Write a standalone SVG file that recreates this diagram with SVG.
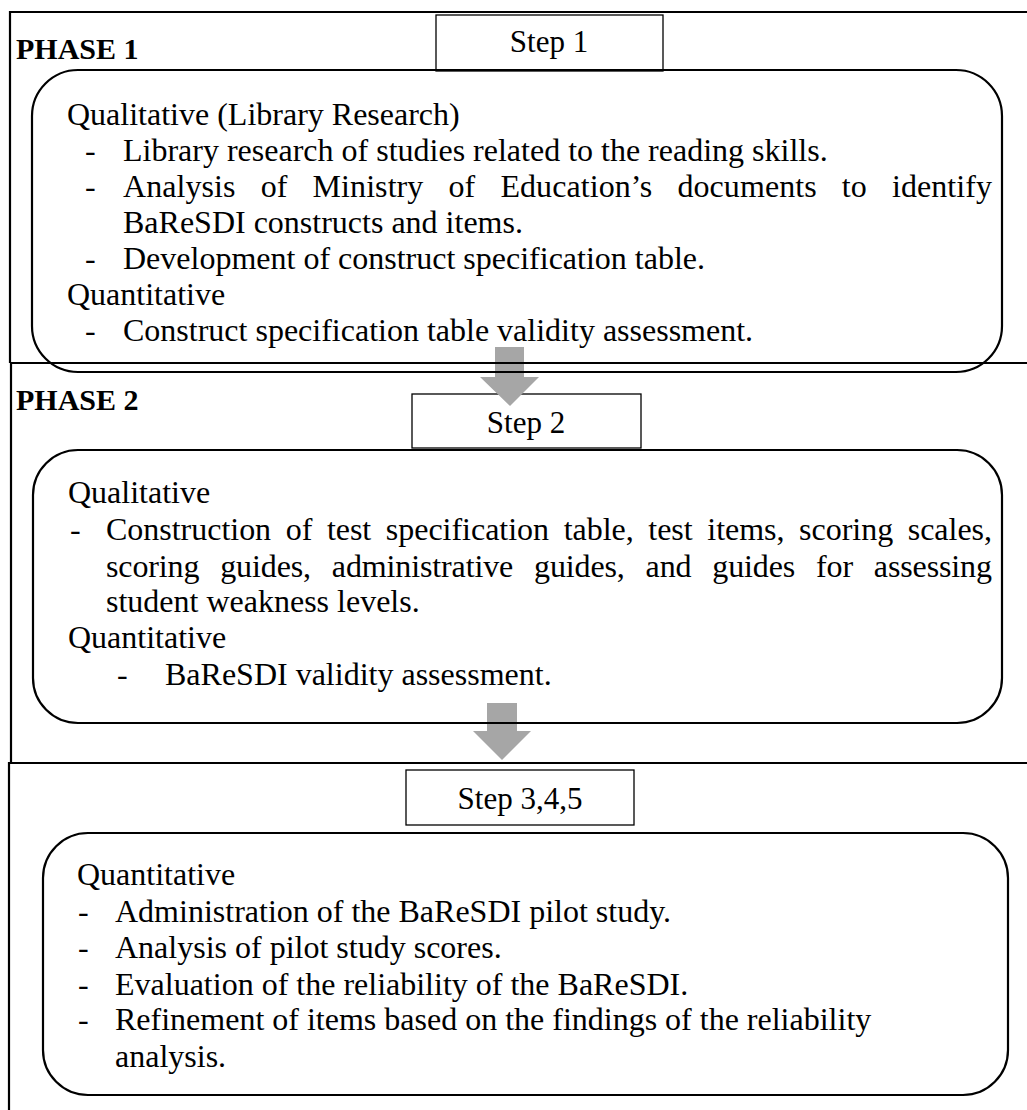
<svg xmlns="http://www.w3.org/2000/svg" width="1027" height="1110" viewBox="0 0 1027 1110">
<style>
.t { font-family: "Liberation Serif", "Times New Roman", serif; font-size: 32px; fill: #000; }
.s { font-family: "Liberation Serif", "Times New Roman", serif; font-size: 31px; fill: #000; text-anchor: middle; }
.ph { font-family: "Liberation Serif", "Times New Roman", serif; font-size: 30px; font-weight: bold; fill: #000; }
.frame { stroke: #000; stroke-width: 2.2; fill: none; }
.rbox { stroke: #000; stroke-width: 2.2; fill: none; }
.step { stroke: #000; stroke-width: 1.3; fill: #fff; }
.arrow { fill: #a6a6a6; }
</style>
<rect width="1027" height="1110" fill="#fff"/>

<g id="step1">
  <rect class="step" x="436" y="15" width="227" height="56"/>
  <text class="s" x="549" y="52">Step 1</text>
</g>
<g id="step2">
  <rect class="step" x="412" y="394" width="229" height="54"/>
  <text class="s" x="526" y="433">Step 2</text>
</g>
<g id="step345">
  <rect class="step" x="406" y="770" width="228" height="55"/>
  <text class="s" x="520" y="809">Step 3,4,5</text>
</g>

<g id="connectors">
  <polygon class="arrow" points="495,347 524,347 524,377 539,377 510,406 480,377 495,377"/>
  <polygon class="arrow" points="487,703 517,703 517,731 531,731 502,760 473,731 487,731"/>
</g>

<g id="frame">
  <path class="frame" d="M1027,12 H10 V363"/>
  <path class="frame" d="M1027,363 H11 V763"/>
  <path class="frame" d="M1027,763 H9 V1110"/>
  <text class="ph" x="16" y="59">PHASE 1</text>
  <text class="ph" x="16" y="410">PHASE 2</text>
</g>

<g id="phase1-box">
  <rect class="rbox" x="32" y="70" width="970" height="302" rx="46" ry="46"/>
  <text class="t" x="67" y="125">Qualitative (Library Research)</text>
  <text class="t" x="85" y="161">-</text>
  <text class="t" x="123" y="161">Library research of studies related to the reading skills.</text>
  <text class="t" x="85" y="197">-</text>
  <text class="t" x="123" y="197" word-spacing="17" textLength="869" lengthAdjust="spacing">Analysis of Ministry of Education’s documents to identify</text>
  <text class="t" x="123" y="233">BaReSDI constructs and items.</text>
  <text class="t" x="85" y="269">-</text>
  <text class="t" x="123" y="269">Development of construct specification table.</text>
  <text class="t" x="67" y="305">Quantitative</text>
  <text class="t" x="85" y="341">-</text>
  <text class="t" x="123" y="341">Construct specification table validity assessment.</text>
</g>

<g id="phase2-box">
  <rect class="rbox" x="33" y="450" width="969" height="273" rx="45" ry="45"/>
  <text class="t" x="68" y="503">Qualitative</text>
  <text class="t" x="70" y="540">-</text>
  <text class="t" x="106" y="540" word-spacing="6.6" textLength="886" lengthAdjust="spacing">Construction of test specification table, test items, scoring scales,</text>
  <text class="t" x="106" y="577" word-spacing="13" textLength="886" lengthAdjust="spacing">scoring guides, administrative guides, and guides for assessing</text>
  <text class="t" x="106" y="612">student weakness levels.</text>
  <text class="t" x="68" y="648">Quantitative</text>
  <text class="t" x="117" y="685">-</text>
  <text class="t" x="165" y="685">BaReSDI validity assessment.</text>
</g>

<g id="phase3-box">
  <rect class="rbox" x="43" y="833" width="965" height="262" rx="45" ry="45"/>
  <text class="t" x="77" y="885">Quantitative</text>
  <text class="t" x="78" y="922">-</text>
  <text class="t" x="115" y="922">Administration of the BaReSDI pilot study.</text>
  <text class="t" x="78" y="958">-</text>
  <text class="t" x="115" y="958">Analysis of pilot study scores.</text>
  <text class="t" x="78" y="995">-</text>
  <text class="t" x="115" y="995">Evaluation of the reliability of the BaReSDI.</text>
  <text class="t" x="78" y="1030">-</text>
  <text class="t" x="115" y="1030">Refinement of items based on the findings of the reliability</text>
  <text class="t" x="115" y="1067">analysis.</text>
</g>
</svg>
